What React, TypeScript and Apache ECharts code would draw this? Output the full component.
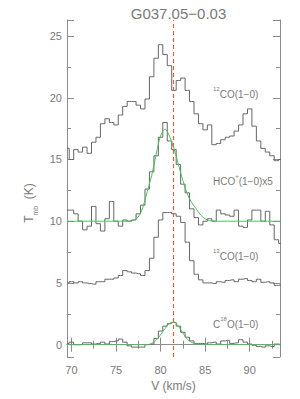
import React, { useEffect, useRef } from 'react';
import * as echarts from 'echarts';

const title = 'G037.05−0.03';
const vLsr = 81.4;

const velocity = [
  69.5, 70, 70.5, 71, 71.5, 72, 72.5, 73, 73.5, 74,
  74.5, 75, 75.5, 76, 76.5, 77, 77.5, 78, 78.5, 79,
  79.5, 80, 80.5, 81, 81.5, 82, 82.5, 83, 83.5, 84,
  84.5, 85, 85.5, 86, 86.5, 87, 87.5, 88, 88.5, 89,
  89.5, 90, 90.5, 91, 91.5, 92, 92.5, 93, 93.5,
];

const co12 = [
  15.9, 15.0, 15.8, 15.6, 16.0, 15.5, 16.4, 16.8, 17.9, 18.3,
  18.0, 17.8, 18.6, 19.3, 19.7, 19.7, 19.4, 19.1, 19.9, 21.7,
  23.2, 24.3, 23.5, 22.6, 20.6, 21.4, 21.6, 20.6, 19.7, 18.7,
  17.9, 17.4, 17.8, 16.2, 16.3, 16.6, 16.8, 16.9, 17.3, 17.8,
  18.7, 19.1, 17.7, 16.5, 15.9, 15.6, 15.3, 14.9, 15.0,
];

const hcoX5 = [
  10.9, 10.9, 10.6, 10.0, 9.3, 9.6, 11.2, 9.8, 9.2, 10.2,
  11.6, 10.0, 9.6, 10.1, 10.0, 10.1, 10.6, 11.3, 12.6, 14.0,
  15.3, 16.8, 18.0, 16.5, 15.8, 14.6, 13.0, 12.3, 11.0, 10.3,
  9.7, 10.0, 10.2, 10.0, 10.9, 10.6, 10.5, 10.4, 10.9, 9.6,
  9.5, 10.1, 10.9, 10.9, 10.0, 10.8, 9.7, 8.5, 8.2,
];

const hcoFit = [
  10.0, 10.0, 10.0, 10.0, 10.0, 10.0, 10.0, 10.0, 10.0, 10.0,
  10.0, 10.0, 10.0, 10.0, 10.0, 10.1, 10.35, 11.1, 12.4, 13.7,
  15.4, 16.9, 17.45, 16.9, 15.9, 14.6, 13.3, 12.2, 11.5, 11.0,
  10.5, 10.2, 10.05, 10.0, 10.0, 10.0, 10.0, 10.0, 10.0, 10.0,
  10.0, 10.0, 10.0, 10.0, 10.0, 10.0, 10.0, 10.0, 10.0,
];

const co13 = [
  5.0, 5.1, 5.0, 5.1, 5.0, 4.95, 4.9, 5.1, 5.1, 5.3,
  5.3, 5.4, 5.6, 6.0, 5.9, 5.8, 5.75, 5.6, 6.0, 7.0,
  8.7, 10.1, 10.7, 10.7, 10.6, 10.4, 9.9, 8.3, 6.8, 5.7,
  5.25, 5.0, 5.0, 4.95, 5.1, 5.05, 5.2, 5.25, 5.1, 5.3,
  5.35, 5.2, 5.1, 5.3, 5.05, 5.1, 5.0, 4.8, 4.85,
];

const c18o = [
  0.1, 0.2, 0.0, 0.0, 0.15, 0.15, 0.05, 0.1, 0.2, 0.05,
  0.25, 0.3, 0.45, 0.2, -0.1, -0.2, -0.2, -0.2, 0.0, 0.05,
  0.5, 1.1, 1.5, 1.7, 1.8, 1.5, 1.0, 0.6, 0.3, 0.1,
  0.1, 0.05, 0.15, 0.2, 0.05, 0.3, 0.35, 0.1, 0.15, 0.4,
  0.2, 0.05, -0.05, -0.15, -0.2, -0.1, -0.15, 0.05, 0.0,
];

const c18oFit = [
  0, 0, 0, 0, 0, 0, 0, 0, 0, 0,
  0, 0, 0, 0, 0, 0, 0, 0, 0, 0.1,
  0.35, 0.8, 1.3, 1.72, 1.82, 1.5, 0.95, 0.45, 0.17, 0.05,
  0, 0, 0, 0, 0, 0, 0, 0, 0, 0,
  0, 0, 0, 0, 0, 0, 0, 0, 0,
];

const lineLabels = [
  { sup: '12', main: 'CO(1−0)', y: 86 },
  { sup: '+', main: '(1−0)x5', pre: 'HCO', y: 173 },
  { sup: '13', main: 'CO(1−0)', y: 248 },
  { sup: '18', main: 'O(1−0)', pre: 'C', y: 316 },
];

const xMin = 69.5;
const xMax = 93.4;
const yMin = -1;
const yMax = 26.3;

export default function App() {
  const ref = useRef<HTMLDivElement>(null);
  useEffect(() => {
    if (!ref.current) return;
    const chart = echarts.init(ref.current, null, { renderer: 'svg' });
    const pair = (ys: number[]) => velocity.map((v, i) => [v, ys[i]]);
    const axisColor = '#8c8c8c';
    const textColor = '#7a7a7a';
    const font = '"Liberation Sans", Arial, sans-serif';
    const curveColor = '#666666';
    const fitColor = '#4cbf5c';

    const xCommon = {
      type: 'value',
      min: xMin,
      max: xMax,
      splitNumber: 5,
      axisLine: { lineStyle: { color: axisColor, width: 1 } },
      axisTick: { inside: true, length: 7, lineStyle: { color: axisColor } },
      minorTick: { show: true, splitNumber: 2, length: 4, lineStyle: { color: axisColor } },
      splitLine: { show: false },
      minorSplitLine: { show: false },
    };
    const yCommon = {
      type: 'value',
      min: yMin,
      max: yMax,
      splitNumber: 5,
      axisLine: { show: true, lineStyle: { color: axisColor, width: 1 } },
      axisTick: { show: true, inside: true, length: 7, lineStyle: { color: axisColor } },
      minorTick: { show: true, splitNumber: 2, length: 4, lineStyle: { color: axisColor } },
      splitLine: { show: false },
      minorSplitLine: { show: false },
    };

    const stepSeries = (name: string, ys: number[]) => ({
      name,
      type: 'line',
      step: 'middle',
      data: pair(ys),
      showSymbol: false,
      symbol: 'none',
      lineStyle: { color: curveColor, width: 1 },
      z: 2,
    });
    const fitSeries = (name: string, ys: number[]) => ({
      name,
      type: 'line',
      smooth: 0.35,
      data: pair(ys),
      showSymbol: false,
      symbol: 'none',
      lineStyle: { color: fitColor, width: 1 },
      z: 3,
    });

    const labelRich = {
      n: { fontSize: 10, fontFamily: font, color: textColor, verticalAlign: 'bottom', lineHeight: 13 },
      s: { fontSize: 6, fontFamily: font, color: textColor, verticalAlign: 'top', lineHeight: 7 },
    };

    chart.setOption({
      animation: false,
      title: {
        text: title,
        left: 173.5,
        textAlign: 'center',
        top: 1,
        textStyle: { fontSize: 15, fontWeight: 'normal', color: textColor, fontFamily: font },
      },
      grid: { left: 67, right: 20, top: 20, bottom: 42, containLabel: false },
      xAxis: [
        {
          ...xCommon,
          position: 'bottom',
          axisLabel: {
            color: textColor,
            fontSize: 11,
            fontFamily: font,
            margin: 7,
            formatter: (v: number) => (Math.abs(v % 5) < 1e-9 ? String(v) : ''),
          },
          name: 'V (km/s)',
          nameLocation: 'middle',
          nameGap: 20,
          nameTextStyle: { color: textColor, fontSize: 12, fontFamily: font },
        },
        {
          ...xCommon,
          position: 'top',
          axisLabel: { show: false },
        },
      ],
      yAxis: [
        {
          ...yCommon,
          position: 'left',
          axisLabel: {
            color: textColor,
            fontSize: 11,
            fontFamily: font,
            margin: 5,
            formatter: (v: number) => (v >= 0 && Math.abs(v % 5) < 1e-9 ? String(v) : ''),
          },
        },
        {
          ...yCommon,
          position: 'right',
          axisLabel: { show: false },
        },
      ],
      series: [
        {
          ...stepSeries('12CO', co12),
          markLine: {
            silent: true,
            symbol: ['none', 'none'],
            label: { show: false },
            lineStyle: { color: '#d9643c', type: [4, 3], width: 1.2 },
            data: [{ xAxis: vLsr }],
            z: 5,
          },
        },
        stepSeries('HCO+ x5', hcoX5),
        fitSeries('HCO+ fit', hcoFit),
        stepSeries('13CO', co13),
        stepSeries('C18O', c18o),
        fitSeries('C18O fit', c18oFit),
      ],
      graphic: [
        ...lineLabels.map((l) => ({
          type: 'text',
          x: 213,
          y: l.y,
          silent: true,
          style: {
            text: (l.pre ? `{n|${l.pre}}` : '') + `{s|${l.sup}}{n|${l.main}}`,
            rich: labelRich,
            fill: textColor,
          },
        })),
        {
          type: 'text',
          x: 31,
          y: 203,
          rotation: Math.PI / 2,
          silent: true,
          style: {
            text: '{t|T}{m|mb}{t|  (K)}',
            align: 'center',
            verticalAlign: 'middle',
            fill: textColor,
            rich: {
              t: { fontSize: 12, fontFamily: font, color: textColor, verticalAlign: 'top', lineHeight: 16 },
              m: { fontSize: 7, fontFamily: font, color: textColor, verticalAlign: 'bottom', lineHeight: 8 },
            },
          },
        },
      ],
    });
    return () => chart.dispose();
  }, []);
  return (
    <div
      ref={ref}
      style={{ position: 'fixed', left: 0, top: 0, width: 300, height: 399, background: '#fff' }}
    />
  );
}
